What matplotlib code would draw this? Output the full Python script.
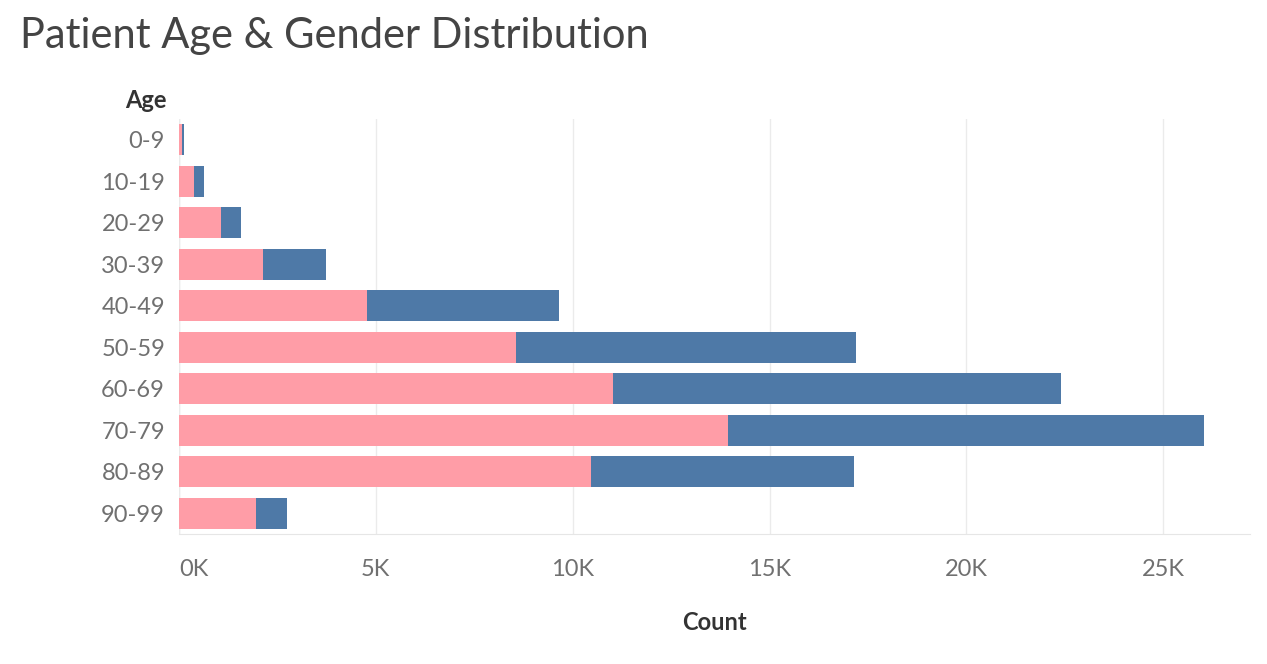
import numpy as np
import matplotlib.pyplot as plt
from matplotlib.ticker import FuncFormatter

plt.rcParams['font.family'] = ['Lato', 'DejaVu Sans']

ages = ['0-9', '10-19', '20-29', '30-39', '40-49', '50-59', '60-69', '70-79', '80-89', '90-99']
female = [80, 380, 1070, 2130, 4780, 8560, 11030, 13950, 10470, 1960]
male = [50, 260, 510, 1600, 4870, 8640, 11370, 12070, 6680, 780]

pink = '#FF9DA7'
blue = '#4E79A7'

fig = plt.figure(figsize=(12.67, 6.64), dpi=100)
ax = fig.add_axes([179 / 1267, 1 - 534 / 664, (1250 - 179) / 1267, 415 / 664])

y = np.arange(len(ages))
ax.barh(y, female, height=0.75, color=pink)
ax.barh(y, male, left=female, height=0.75, color=blue)

ax.set_ylim(len(ages) - 0.5, -0.5)
ax.set_xlim(0, 27200)
ax.set_yticks(y)
ax.set_yticklabels(ages)
ax.set_xticks([0, 5000, 10000, 15000, 20000, 25000])
ax.xaxis.set_major_formatter(FuncFormatter(lambda v, p: '%dK' % (v / 1000)))
ax.tick_params(axis='y', length=0, labelsize=17, labelcolor='#707070', pad=10)
ax.tick_params(axis='x', length=0, labelsize=17, labelcolor='#707070', pad=18)
# tableau keeps the first label inside the pane
ax.get_xticklabels()[0].set_ha('left')

ax.grid(axis='x', color='#EBEBEB', linewidth=1)
ax.set_axisbelow(True)
for s in ['top', 'right', 'left']:
    ax.spines[s].set_visible(False)
ax.spines['bottom'].set_color('#E6E6E6')
ax.axvline(0, color='#E6E6E6', linewidth=1, zorder=0)

ax.set_xlabel('Count', fontsize=17, fontweight='bold', color='#333333', labelpad=22)
fig.text(167 / 1267, 1 - 101 / 664, 'Age', ha='right', va='center', fontsize=17,
         fontweight='bold', color='#333333')
fig.text(20 / 1267, 1 - 36 / 664, 'Patient Age & Gender Distribution', ha='left', va='center',
         fontsize=30, color='#444444')

fig.savefig('out.png', dpi=100)
